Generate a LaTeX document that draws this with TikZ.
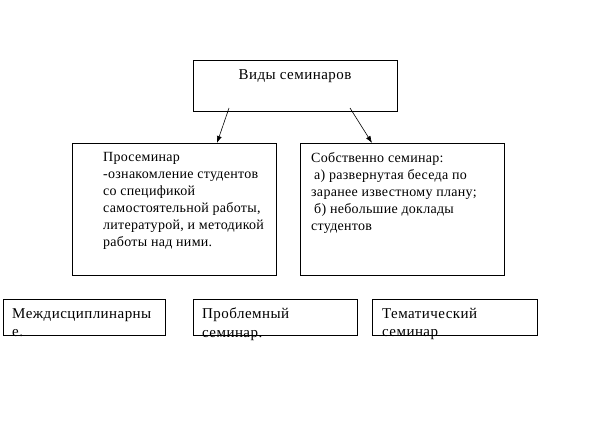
\documentclass[tikz,border=0pt]{standalone}
\usepackage{fontspec}
\setmainfont{Liberation Serif}
\newfontfamily\semfont[LetterSpace=2]{Liberation Serif}
\newfontfamily\kindfont[LetterSpace=3]{Liberation Serif}
\usetikzlibrary{positioning,calc,arrows.meta}

\tikzset{
  box/.style={rectangle,draw=black,line width=1pt,inner sep=0pt,outer sep=0pt},
  txt/.style={inner sep=0pt,align=left,anchor=north west,execute at begin node=\strut,
    font=\semfont\fontsize{14}{17}\selectfont},
  kindtxt/.style={txt,font=\kindfont\fontsize{15}{18.5}\selectfont},
  arr/.style={line width=0.6pt,-{Latex[length=7pt,width=5pt]}}
}

\begin{document}
\begin{tikzpicture}[x=1pt,y=-1pt]
	\useasboundingbox[fill=white] (0,0) rectangle (614,433);
	% boxes
	\node[box,minimum width=204,minimum height=51] (vidy) at (295,86.5) {};
	\node[box,minimum width=204,minimum height=132] (prosem) at (174,210) {};
	\node[box,minimum width=204,minimum height=132,right=24pt of prosem] (sobstv) {};
	\node[box,minimum width=162,minimum height=35] (mezhd) at (84,317.5) {};
	\node[box,minimum width=164,minimum height=35,right=28pt of mezhd] (probl) {};
	\node[box,minimum width=165,minimum height=35,right=15pt of probl] (temat) {};
	% texts
	\node[kindtxt,anchor=base] (tvidy) at ($(vidy.north)+(0,19)$) {Виды семинаров};
	\node[txt] (tprosem) at ($(prosem.north west)+(31,8.4)$) {Просеминар\\-ознакомление студентов\\со спецификой\\самостоятельной работы,\\литературой, и методикой\\работы над ними.};
	\node[txt] (tsobstv) at ($(sobstv.north west)+(11,8.4)$) {Собственно семинар:\\\hspace{3pt}а) развернутая беседа по\\заранее известному плану;\\\hspace{3pt}б) небольшие доклады\\студентов};
	\node[kindtxt] (tmezhd) at ($(mezhd.north west)+(9,8)$) {Междисциплинарны\\е.};
	\node[kindtxt] (tprobl) at ($(probl.north west)+(9,8)$) {Проблемный\\семинар.};
	\node[kindtxt] (ttemat) at ($(temat.north west)+(10,8)$) {Тематический\\семинар};
	% arrows
	\draw[arr] ([shift={(36,-4)}]vidy.south west) -- ([shift={(145,-1)}]prosem.north west);
	\draw[arr] ([shift={(-47,-4)}]vidy.south east) -- ([shift={(72,-1)}]sobstv.north west);
\end{tikzpicture}
\end{document}
